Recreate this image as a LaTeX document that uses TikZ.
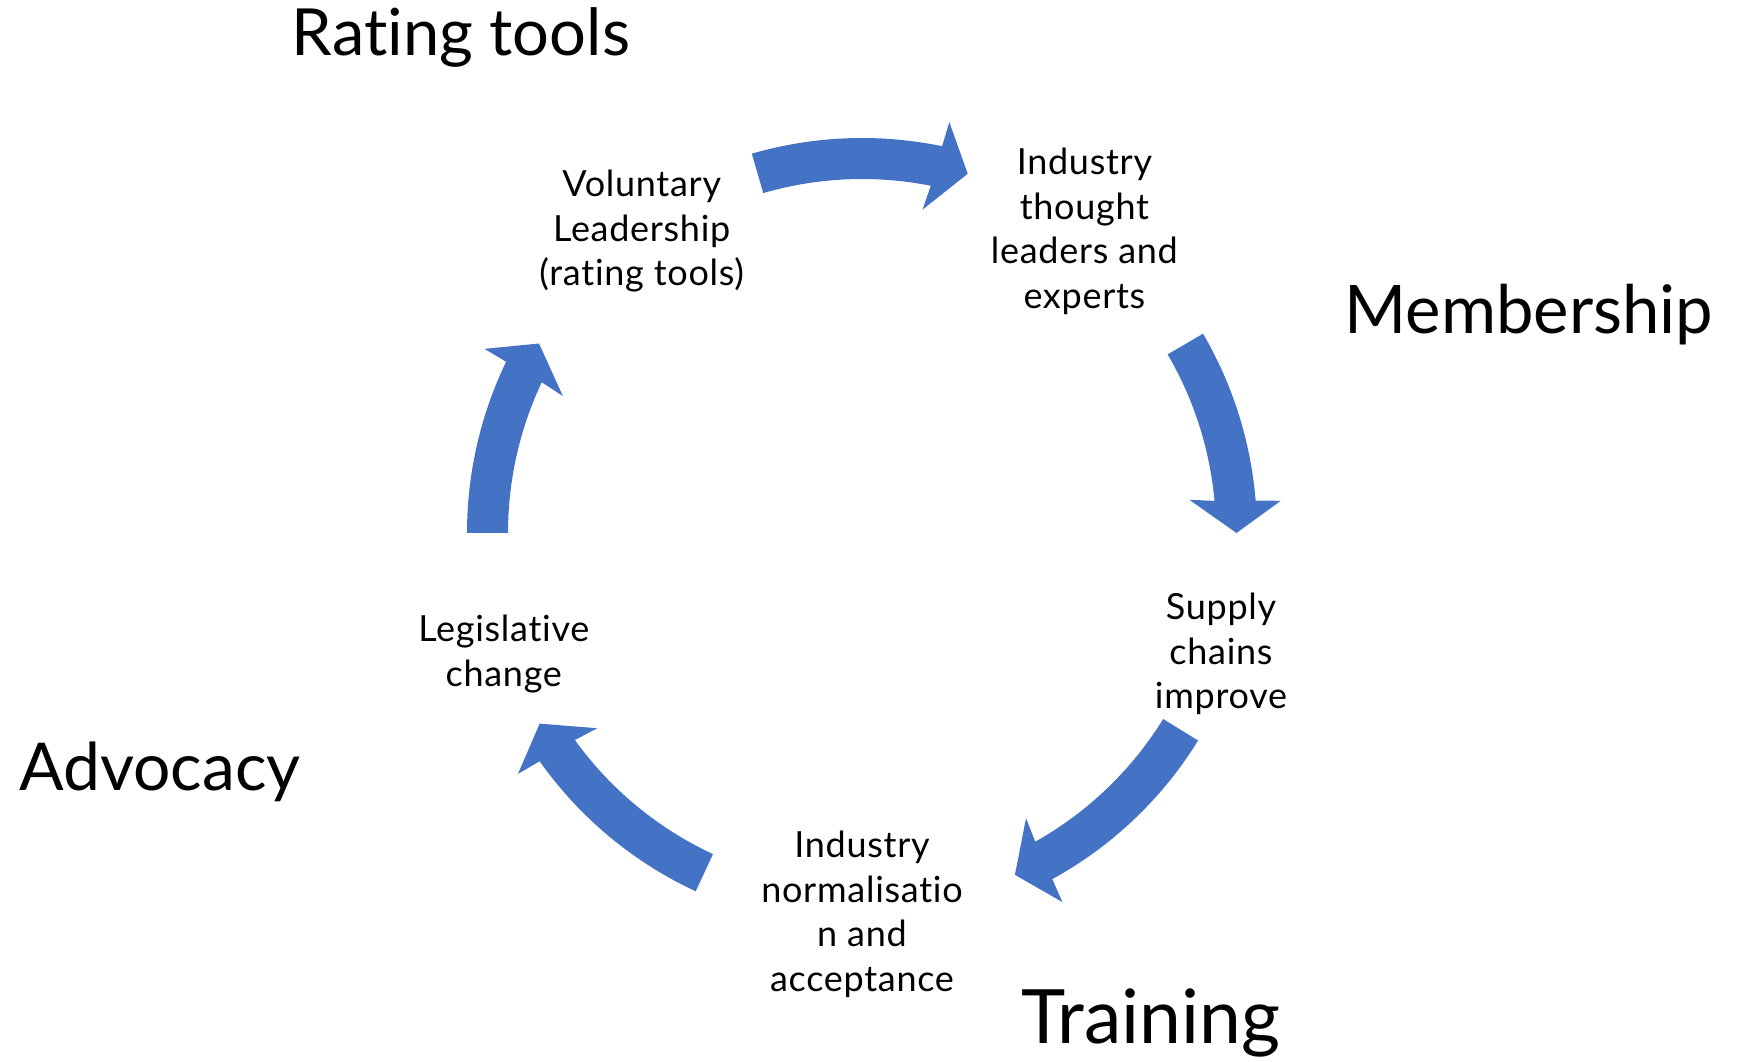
\documentclass[tikz,border=0pt]{standalone}
\usepackage{fontspec}
\setmainfont{Lato}[Ligatures=NoCommon]
\newfontfamily\steptextfont{Lato}[Ligatures=NoCommon, LetterSpace=2]
\usetikzlibrary{calc}
\definecolor{cycblue}{RGB}{68,114,196}
\tikzset{
  steptext/.style={align=center, inner sep=0pt, font=\steptextfont\fontsize{36}{44.5}\selectfont},
  biglabel/.style={anchor=base, inner sep=0pt, font=\fontsize{66}{72}\selectfont},
  arrowfill/.style={fill=cycblue, draw=none}
}
\newcommand{\cycarrow}[2]{%
  \pgfmathsetmacro{\tipa}{#2}%
  \pgfmathsetmacro{\aoe}{#2+4.7}%
  \pgfmathsetmacro{\aho}{#2+4.4}%
  \pgfmathsetmacro{\ahi}{#2+5.8}%
  \pgfmathsetmacro{\aie}{#2+5.2}%
  \fill[arrowfill] (#1:395) arc[start angle=#1, end angle=\aoe, radius=395]
    -- (\aho:420) -- (\tipa:374.5) -- (\ahi:329) -- (\aie:354)
    arc[start angle=\aie, end angle=#1, radius=354] -- cycle;%
}
\begin{document}
\begin{tikzpicture}[x=1pt, y=1pt]
\useasboundingbox (0,0) rectangle (1744,1061);
\coordinate (C) at (862,528);
\begin{scope}[shift={(C)}]
  \cycarrow{106.2}{73.6}
  \cycarrow{30.3}{0}
  \cycarrow{-31.7}{-65.9}
  \cycarrow{245.1}{210.6}
  \cycarrow{180}{149.6}
\end{scope}
\node[steptext] (vol) at (641.7,829.5) {Voluntary\\Leadership\\(rating tools)};
\node[steptext] (ind) at (1084.4,829.5) {Industry\\thought\\leaders and\\experts};
\node[steptext] (sup) at (1221,407) {Supply\\chains\\improve};
\node[steptext] (nor) at (862,146.5) {Industry\\normalisatio\\n and\\acceptance};
\node[steptext] (leg) at (503.8,407) {Legislative\\change};
\node[biglabel, font=\fontsize{65}{72}\selectfont] (rat) at (461,1005) {Rating tools};
\node[biglabel, font=\fontsize{67}{72}\selectfont] (mem) at (1529,727) {Membership};
\node[biglabel] (adv) at (160,271) {Advocacy};
\node[biglabel, font=\fontsize{75}{80}\selectfont] (tra) at (1151,18) {Training};
\end{tikzpicture}
\end{document}
